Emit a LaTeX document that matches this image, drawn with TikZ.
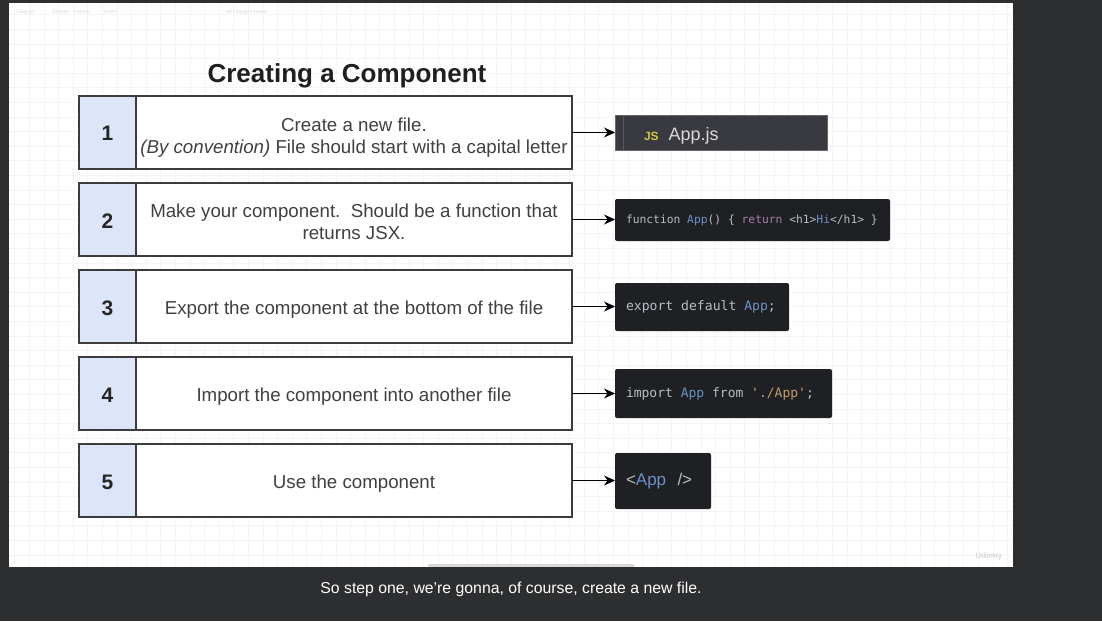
\documentclass[tikz,border=0pt]{standalone}
\usepackage{fontspec}
\setmainfont{Liberation Sans}
\setmonofont{DejaVu Sans Mono}
\usetikzlibrary{arrows.meta}
\definecolor{bg}{HTML}{2D2E30}
\definecolor{gridc}{HTML}{F4F4F6}
\definecolor{numfill}{HTML}{DCE6F8}
\definecolor{boxline}{HTML}{3C3C3C}
\definecolor{codebg}{HTML}{1F2023}
\definecolor{filebg}{HTML}{393A3F}
\definecolor{cgrey}{HTML}{B9BDC5}
\definecolor{cblue}{HTML}{6E90C8}
\definecolor{cpurple}{HTML}{A87DA6}
\definecolor{corange}{HTML}{C59B6D}
\definecolor{jsyellow}{HTML}{D5C646}
\definecolor{faint}{HTML}{D8D8DA}
\newcommand\monoat[1]{\ttfamily\fontsize{#1}{#1}\selectfont}
\newcommand\ms{\hspace*{0.602em}}
\newcommand\lowered[2]{\raisebox{#1}[0pt][0pt]{#2}}
\tikzset{
  numbox/.style={draw=boxline, fill=numfill, line width=1.1pt, minimum width=57pt, minimum height=73pt,
    inner sep=0pt, outer sep=0pt, font=\fontsize{21}{24}\selectfont\bfseries, text=black!85},
  txtbox/.style={draw=boxline, fill=white, line width=1.1pt, minimum width=436pt, minimum height=73pt,
    inner sep=0pt, outer sep=0pt, align=center, font=\fontsize{18.7}{22}\selectfont, text=black!75},
  codebox/.style={fill=codebg, rounded corners=2pt, anchor=west, inner xsep=11pt, inner ysep=0pt,
    outer sep=0pt, align=left, text=cgrey},
  arr/.style={-{Stealth[length=11pt,width=10pt]}, line width=1.1pt, black},
}
\begin{document}
\begin{tikzpicture}[x=1pt,y=-1pt]
\fill[bg] (0,0) rectangle (1102,621);
\useasboundingbox (0,0) rectangle (1102,621);
\fill[white] (9,3) rectangle (1013,567);
\begin{scope}
\clip (9,3) rectangle (1013,567);
\draw[gridc, line width=0.6pt, step=14.6pt] (9,3) grid (1013,567);
\end{scope}
% faint toolbar
\begin{scope}[every node/.style={text=faint, font=\fontsize{5}{6}\selectfont, anchor=west, inner sep=0pt}]
\node (tb1) at (16,12) {Diagram};
\node (tb2) at (52,12) {Shapes};
\node (tb3) at (74,12) {Format};
\node (tb4) at (104,12) {Insert};
\node (tb5) at (226,12) {All changes saved};
\end{scope}
\node[text=faint, font=\fontsize{8}{9}\selectfont\bfseries, inner sep=0pt] (udemy) at (989,556) {Udemy};
\draw[faint, line width=3pt, line cap=round] (429,565) -- (633,565);

% title
\node[font=\fontsize{26}{30}\selectfont\bfseries, text=black!88] (title) at (347,76) {Creating a Component};

% rows
\node[numbox] (n1) at (107.5,132.5) {\lowered{-8pt}{1}};
\node[txtbox] (t1) at (354,132.5) {\lowered{-9.5pt}{\begin{tabular}{@{}c@{}}Create a new file.\\\textit{(By convention)} File should start with a capital letter\end{tabular}}};
\node[numbox] (n2) at (107.5,219.5) {\lowered{-9pt}{2}};
\node[txtbox] (t2) at (354,219.5) {\lowered{-9pt}{\begin{tabular}{@{}c@{}}Make your component.\ \ Should be a function that\\returns JSX.\end{tabular}}};
\node[numbox] (n3) at (107.5,306.5) {\lowered{-9pt}{3}};
\node[txtbox] (t3) at (354,306.5) {\lowered{-8.2pt}{Export the component at the bottom of the file}};
\node[numbox] (n4) at (107.5,393.5) {\lowered{-9pt}{4}};
\node[txtbox] (t4) at (354,393.5) {\lowered{-8.2pt}{Import the component into another file}};
\node[numbox] (n5) at (107.5,480.5) {\lowered{-9pt}{5}};
\node[txtbox] (t5) at (354,480.5) {\lowered{-8.2pt}{Use the component}};

% code boxes
\node[codebox, fill=filebg, draw=black!60, line width=0.8pt, rounded corners=0pt, minimum height=35pt, text width=190pt, inner xsep=11pt] (c1) at (615,132.5)
  {\lowered{-7.5pt}{\hspace*{18pt}{\color{jsyellow}\fontsize{12}{12}\selectfont\bfseries JS}\hspace{10pt}{\color{black!15}\fontsize{18}{20}\selectfont App.js}}};
\draw[black!65, line width=0.8pt] ([xshift=8pt]c1.north west) -- ([xshift=8pt]c1.south west);
\node[codebox, minimum height=42pt, text width=253pt, font=\monoat{11.3}] (c2) at (615,220)
  {function\ms{\color{cblue}App}()\ms\{\ms{\color{cpurple}return}\ms<h1>{\color{cblue}Hi}</h1>\ms\}};
\node[codebox, minimum height=48pt, text width=152pt, font=\monoat{13.1}] (c3) at (615,307)
  {export\ms default\ms{\color{cblue}App};};
\node[codebox, minimum height=49pt, text width=195pt, font=\monoat{13}] (c4) at (615,393.5)
  {import\ms{\color{cblue}App}\ms from\ms{\color{corange}'./App'};};
\node[codebox, minimum height=56pt, text width=74pt, font=\fontsize{17}{20}\selectfont] (c5) at (615,481)
  {<{\color{cblue}App}\ \ />};

% arrows
\draw[arr] (t1.east) -- (t1.east -| c1.west);
\draw[arr] (t2.east) -- (t2.east -| c2.west);
\draw[arr] (t3.east) -- (t3.east -| c3.west);
\draw[arr] (t4.east) -- (t4.east -| c4.west);
\draw[arr] (t5.east) -- (t5.east -| c5.west);

% caption
\node[text=white, font=\fontsize{15.8}{18}\selectfont] (cap) at (511,589) {So step one, we're gonna, of course, create a new file.};
\end{tikzpicture}
\end{document}
